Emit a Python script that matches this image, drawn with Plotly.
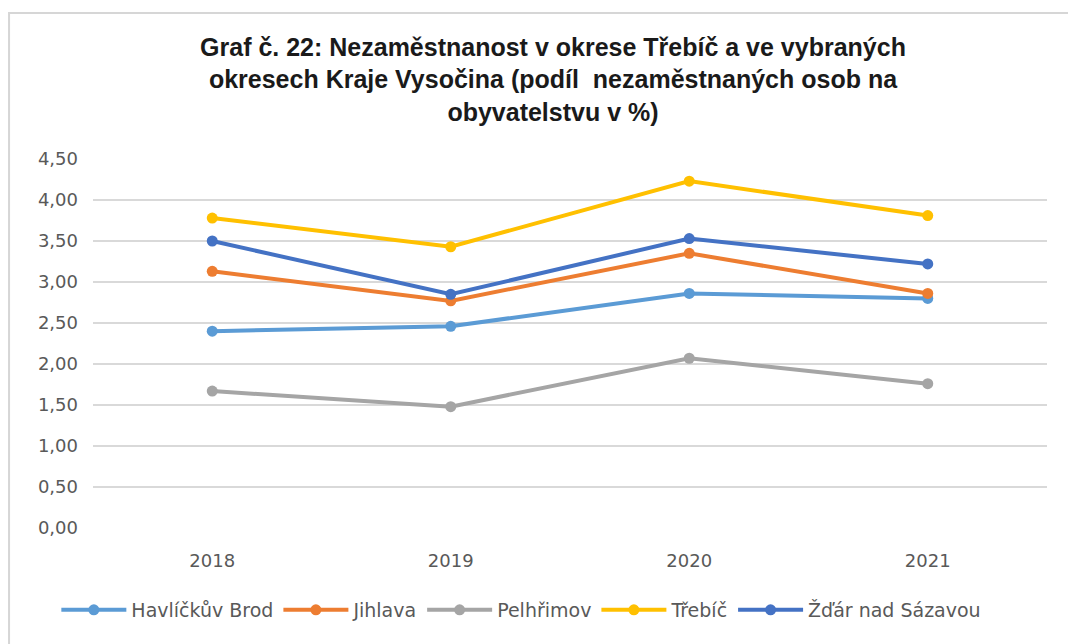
import plotly.graph_objects as go

years = ["2018", "2019", "2020", "2021"]
havlickuv_brod = [2.40, 2.46, 2.86, 2.80]
jihlava = [3.13, 2.77, 3.35, 2.86]
pelhrimov = [1.67, 1.48, 2.07, 1.76]
trebic = [3.78, 3.43, 4.23, 3.81]
zdar = [3.50, 2.85, 3.53, 3.22]

series = [
    ("Havlíčkův Brod", havlickuv_brod, "#5B9BD5"),
    ("Jihlava", jihlava, "#ED7D31"),
    ("Pelhřimov", pelhrimov, "#A5A5A5"),
    ("Třebíč", trebic, "#FFC000"),
    ("Žďár nad Sázavou", zdar, "#4472C4"),
]

fig = go.Figure()
for name, vals, color in series:
    fig.add_trace(go.Scatter(x=years, y=vals, name=name, mode="lines+markers",
                             line=dict(color=color, width=4),
                             marker=dict(color=color, size=11)))

# light frame round the whole chart, like the Excel chart area
fig.add_shape(type="rect", xref="paper", yref="paper",
              x0=-0.088, x1=1.06, y0=-0.45, y1=1.396,
              line=dict(color="#d6d6d6", width=2), layer="below")

fig.update_layout(
    width=1076, height=644,
    margin=dict(l=85, r=37, t=151, b=124),
    paper_bgcolor="white", plot_bgcolor="white",
    separators=", ",
    font=dict(family="DejaVu Sans, sans-serif", color="#595959", size=18),
    title=dict(text="<b>Graf č. 22: Nezaměstnanost v okrese Třebíč a ve vybraných<br>"
                    "okresech Kraje Vysočina (podíl  nezaměstnaných osob na<br>"
                    "obyvatelstvu v %)</b>",
               x=0.5065, xanchor="center", y=0.926, yanchor="top",
               font=dict(size=25, color="#1a1a1a", family="Liberation Sans, Arial, sans-serif")),
    legend=dict(orientation="h", x=0.449, xanchor="center", y=-0.222, yanchor="middle",
                font=dict(size=19, color="#595959"), itemwidth=65),
    xaxis=dict(showgrid=False, showline=False, ticks="", range=[-0.5, 3.5],
               ticklabelstandoff=20, tickfont=dict(size=18)),
    yaxis=dict(range=[0, 4.5], dtick=0.5, tickformat=".2f", showgrid=True,
               gridcolor="#d9d9d9", gridwidth=1.5, zeroline=False, showline=False,
               ticks="", ticklabelstandoff=14, tickfont=dict(size=18)),
)

fig.write_html("out.html")
